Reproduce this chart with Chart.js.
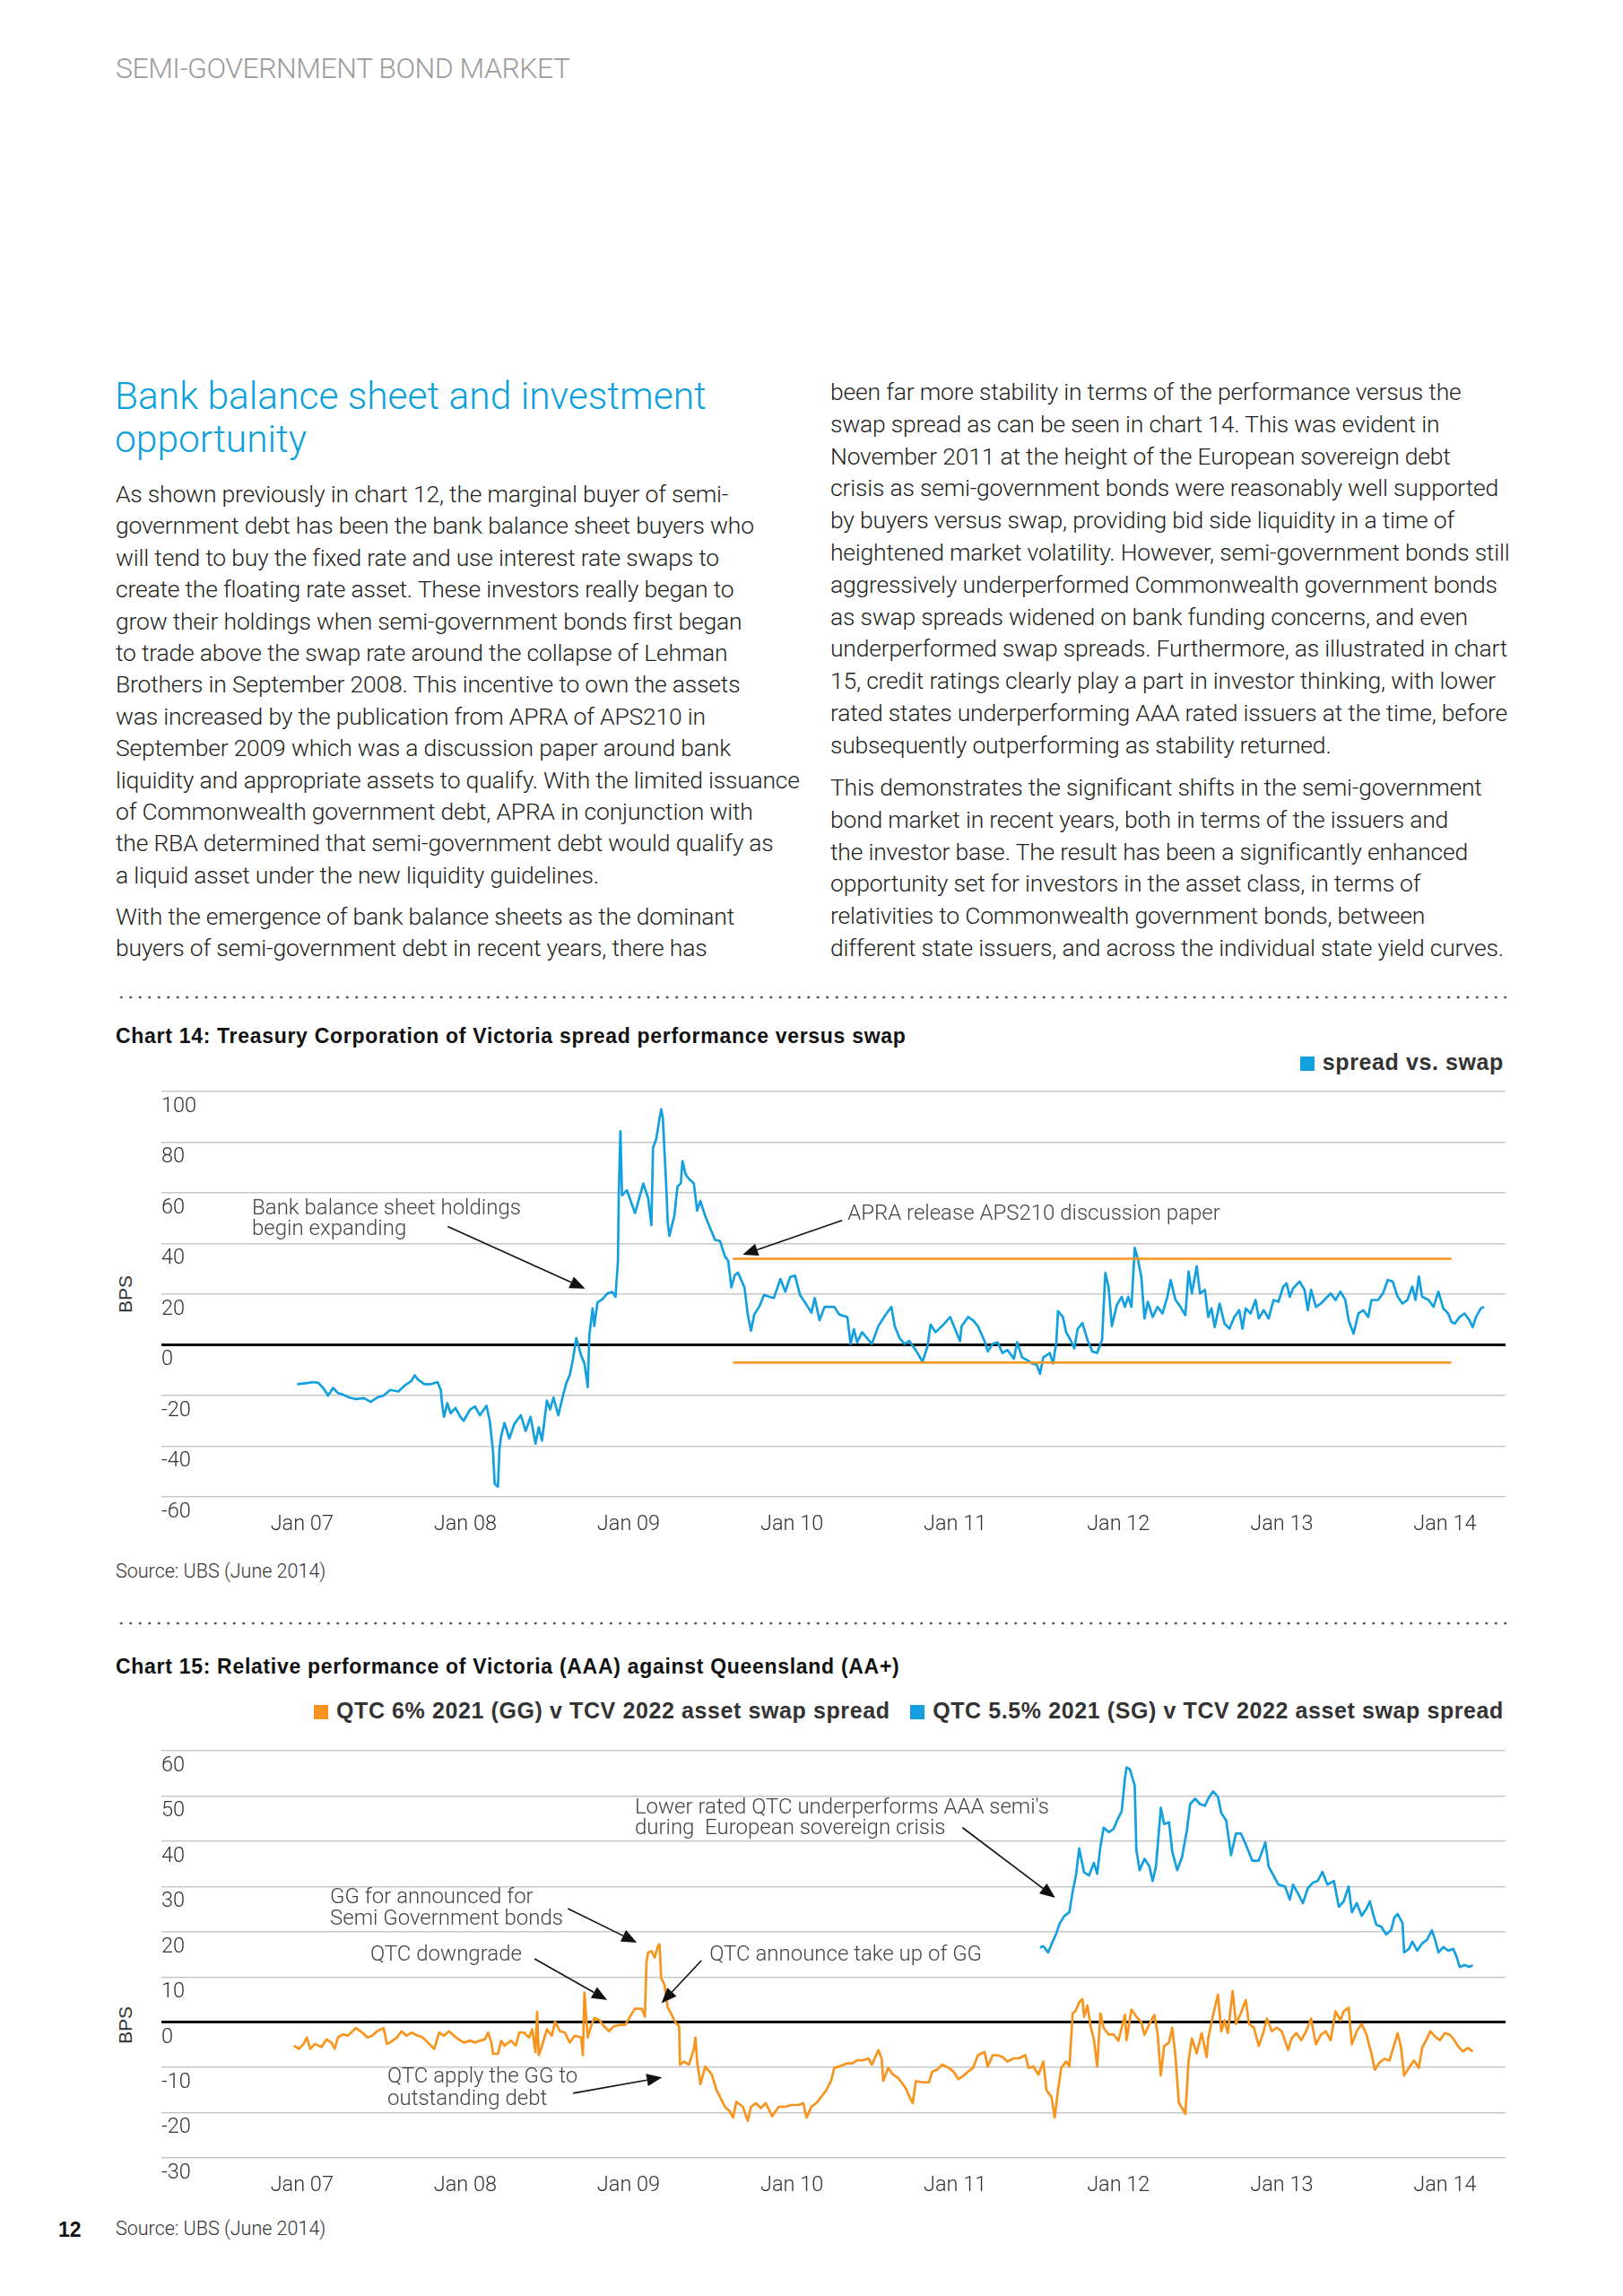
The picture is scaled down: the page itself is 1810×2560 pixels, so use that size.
<!DOCTYPE html>
<html>
<head>
<meta charset="utf-8">
<script src="https://cdn.jsdelivr.net/npm/chart.js@4.4.1/dist/chart.umd.min.js"></script>
<style>
  html, body { margin: 0; padding: 0; background: #fff; }
  body { width: 1810px; height: 2560px; position: relative; overflow: hidden; font-family: Roboto, "Liberation Sans", sans-serif; color: #222; }
  .abs { position: absolute; white-space: nowrap; }
  .header { left: 129px; top: 60px; font-size: 32px; line-height: 32px; font-weight: 300; color: #9b9b9b; letter-spacing: -0.5px; }
  .heading { left: 128px; top: 418px; font-size: 42.5px; line-height: 48px; font-weight: 300; color: #0b9fdc; letter-spacing: 0; }
  .body-text { font-size: 26.5px; font-weight: 300; letter-spacing: -0.2px; color: #231f20; }
  .left-col { left: 129px; line-height: 35.4px; }
  .right-col { left: 926px; line-height: 35.8px; }
  .dots { left: 130px; width: 1552px; height: 4px; background: radial-gradient(circle, #555 1.3px, transparent 1.7px) 0 0 / 10.5px 4px repeat-x; }
  .chart-title { left: 129px; font-family: "Liberation Sans", Arial, sans-serif; font-weight: bold; font-size: 23px; line-height: 24px; letter-spacing: 0.7px; color: #111; }
  .legend { font-family: "Liberation Sans", Arial, sans-serif; font-weight: bold; font-size: 25px; line-height: 28px; color: #333; letter-spacing: 0.6px; }
  .sw { display: inline-block; width: 16px; height: 16px; margin-right: 9px; vertical-align: -1px; }
  .bps { font-family: "Liberation Sans", Arial, sans-serif; font-size: 21px; color: #333; transform: translate(-50%, -50%) rotate(-90deg); }
  .source { left: 129px; font-size: 21.5px; font-weight: 300; line-height: 24px; color: #333; }
  .pageno { left: 65px; font-family: "Liberation Sans", Arial, sans-serif; font-weight: bold; font-size: 23px; line-height: 24px; color: #111; }
  canvas { position: absolute; }
</style>
</head>
<body>

<div class="abs header">SEMI-GOVERNMENT BOND MARKET</div>

<div class="abs heading">Bank balance sheet and investment<br>opportunity</div>

<div class="abs body-text left-col" style="top:533px">As shown previously in chart 12, the marginal buyer of semi-<br>government debt has been the bank balance sheet buyers who<br>will tend to buy the fixed rate and use interest rate swaps to<br>create the floating rate asset. These investors really began to<br>grow their holdings when semi-government bonds first began<br>to trade above the swap rate around the collapse of Lehman<br>Brothers in September 2008. This incentive to own the assets<br>was increased by the publication from APRA of APS210 in<br>September 2009 which was a discussion paper around bank<br>liquidity and appropriate assets to qualify. With the limited issuance<br>of Commonwealth government debt, APRA in conjunction with<br>the RBA determined that semi-government debt would qualify as<br>a liquid asset under the new liquidity guidelines.</div>
<div class="abs body-text left-col" style="top:1004px">With the emergence of bank balance sheets as the dominant<br>buyers of semi-government debt in recent years, there has</div>

<div class="abs body-text right-col" style="top:419px">been far more stability in terms of the performance versus the<br>swap spread as can be seen in chart 14. This was evident in<br>November 2011 at the height of the European sovereign debt<br>crisis as semi-government bonds were reasonably well supported<br>by buyers versus swap, providing bid side liquidity in a time of<br>heightened market volatility. However, semi-government bonds still<br>aggressively underperformed Commonwealth government bonds<br>as swap spreads widened on bank funding concerns, and even<br>underperformed swap spreads. Furthermore, as illustrated in chart<br>15, credit ratings clearly play a part in investor thinking, with lower<br>rated states underperforming AAA rated issuers at the time, before<br>subsequently outperforming as stability returned.</div>
<div class="abs body-text right-col" style="top:860px">This demonstrates the significant shifts in the semi-government<br>bond market in recent years, both in terms of the issuers and<br>the investor base. The result has been a significantly enhanced<br>opportunity set for investors in the asset class, in terms of<br>relativities to Commonwealth government bonds, between<br>different state issuers, and across the individual state yield curves.</div>

<div class="abs dots" style="top:1110px"></div>

<div class="abs chart-title" style="top:1143px">Chart 14: Treasury Corporation of Victoria spread performance versus swap</div>
<div class="abs legend" style="right:133px; top:1170px"><span class="sw" style="background:#14a0de"></span>spread vs. swap</div>
<div class="abs bps" style="left:140px; top:1443px">BPS</div>
<canvas id="chart14" width="1570" height="540" style="left:130px; top:1190px; width:1570px; height:540px"></canvas>
<div class="abs source" style="top:1740px">Source: UBS (June 2014)</div>

<div class="abs dots" style="top:1808px"></div>

<div class="abs chart-title" style="top:1846px">Chart 15: Relative performance of Victoria (AAA) against Queensland (AA+)</div>
<div class="abs legend" style="right:133px; top:1893px"><span class="sw" style="background:#f7941d"></span>QTC 6% 2021 (GG) v TCV 2022 asset swap spread&nbsp;&nbsp;&nbsp;<span class="sw" style="background:#14a0de"></span>QTC 5.5% 2021 (SG) v TCV 2022 asset swap spread</div>
<div class="abs bps" style="left:140px; top:2258px">BPS</div>
<canvas id="chart15" width="1570" height="542" style="left:130px; top:1925px; width:1570px; height:542px"></canvas>

<div class="pageno abs" style="top:2474px">12</div>
<div class="abs source" style="top:2473px">Source: UBS (June 2014)</div>

<script>
// x axis: decimal years, ticks every January
const yearTicks = [2007, 2008, 2009, 2010, 2011, 2012, 2013, 2014];
const yearLabels = ["Jan 07", "Jan 08", "Jan 09", "Jan 10", "Jan 11", "Jan 12", "Jan 13", "Jan 14"];
const X_MIN = 2006.139;
const X_MAX = 2014.371;

// Chart 14: TCV spread vs swap (bps)
const c14YTicks = [-60, -40, -20, 0, 20, 40, 60, 80, 100];
const c14Dates = [
  2006.97, 2007.04, 2007.07, 2007.10, 2007.13, 2007.16, 2007.19, 2007.22, 2007.25, 2007.29,
  2007.33, 2007.38, 2007.42, 2007.46, 2007.50, 2007.54, 2007.59, 2007.63, 2007.67, 2007.69,
  2007.71, 2007.75, 2007.79, 2007.83, 2007.85, 2007.86, 2007.87, 2007.89, 2007.91, 2007.94,
  2007.97, 2007.99, 2008.03, 2008.06, 2008.09, 2008.13, 2008.15, 2008.17, 2008.18, 2008.20,
  2008.21, 2008.22, 2008.24, 2008.27, 2008.30, 2008.34, 2008.37, 2008.40, 2008.43, 2008.45,
  2008.47, 2008.50, 2008.52, 2008.54, 2008.57, 2008.60, 2008.62, 2008.64, 2008.66, 2008.68,
  2008.71, 2008.73, 2008.75, 2008.76, 2008.78, 2008.79, 2008.81, 2008.84, 2008.87, 2008.90,
  2008.92, 2008.935, 2008.94, 2008.95, 2008.96, 2008.99, 2009.04, 2009.09, 2009.12, 2009.14,
  2009.15, 2009.17, 2009.19, 2009.20, 2009.21, 2009.22, 2009.23, 2009.24, 2009.25, 2009.28,
  2009.30, 2009.32, 2009.33, 2009.35, 2009.37, 2009.40, 2009.42, 2009.44, 2009.47, 2009.50,
  2009.53, 2009.56, 2009.59, 2009.61, 2009.63, 2009.65, 2009.67, 2009.71, 2009.73, 2009.75,
  2009.77, 2009.80, 2009.83, 2009.86, 2009.89, 2009.93, 2009.96, 2009.99, 2010.02, 2010.05,
  2010.08, 2010.12, 2010.14, 2010.17, 2010.20, 2010.23, 2010.26, 2010.29, 2010.34, 2010.36,
  2010.38, 2010.40, 2010.43, 2010.46, 2010.49, 2010.53, 2010.57, 2010.61, 2010.63, 2010.66,
  2010.69, 2010.72, 2010.77, 2010.80, 2010.83, 2010.85, 2010.88, 2010.92, 2010.97, 2011.00,
  2011.03, 2011.04, 2011.08, 2011.11, 2011.14, 2011.18, 2011.20, 2011.23, 2011.26, 2011.29,
  2011.32, 2011.36, 2011.38, 2011.41, 2011.44, 2011.47, 2011.50, 2011.52, 2011.54, 2011.58,
  2011.60, 2011.62, 2011.63, 2011.66, 2011.68, 2011.71, 2011.73, 2011.75, 2011.78, 2011.81,
  2011.84, 2011.87, 2011.90, 2011.92, 2011.94, 2011.96, 2011.99, 2012.02, 2012.04, 2012.06,
  2012.08, 2012.10, 2012.12, 2012.14, 2012.16, 2012.18, 2012.21, 2012.24, 2012.27, 2012.30,
  2012.32, 2012.35, 2012.38, 2012.41, 2012.43, 2012.45, 2012.48, 2012.50, 2012.53, 2012.55,
  2012.57, 2012.59, 2012.62, 2012.65, 2012.68, 2012.71, 2012.74, 2012.76, 2012.78, 2012.81,
  2012.84, 2012.86, 2012.89, 2012.92, 2012.95, 2012.98, 2013.01, 2013.03, 2013.05, 2013.07,
  2013.11, 2013.14, 2013.16, 2013.18, 2013.21, 2013.24, 2013.27, 2013.30, 2013.33, 2013.36,
  2013.39, 2013.41, 2013.44, 2013.47, 2013.50, 2013.53, 2013.55, 2013.59, 2013.62, 2013.65,
  2013.68, 2013.71, 2013.74, 2013.77, 2013.80, 2013.82, 2013.84, 2013.86, 2013.90, 2013.93,
  2013.96, 2013.99, 2014.02, 2014.04, 2014.06, 2014.09, 2014.12, 2014.15, 2014.17, 2014.19,
  2014.22, 2014.24
];
const c14Spread = [
  -15.5, -15.0, -14.7, -15.0, -17.0, -20.0, -17.0, -19.0, -19.6, -20.8,
  -21.4, -21.0, -22.5, -20.8, -20.0, -17.8, -18.4, -16.0, -14.3, -12.0,
  -13.7, -15.5, -15.5, -14.7, -17.8, -24.3, -28.4, -23.0, -27.0, -24.9,
  -28.4, -30.0, -25.5, -24.3, -27.8, -24.0, -30.0, -42.0, -54.8, -56.0,
  -40.7, -36.0, -30.8, -37.0, -31.3, -27.8, -34.0, -28.4, -39.0, -32.5,
  -37.8, -22.0, -25.5, -20.8, -27.8, -19.6, -14.9, -12.0, -5.5, 2.7,
  -4.3, -7.3, -16.7, 3.9, 14.4, 7.4, 16.8, 18.0, 20.3, 20.9,
  19.0, 33.0, 59.0, 84.3, 59.0, 61.0, 52.0, 63.7, 57.9, 47.3,
  77.8, 81.3, 89.6, 93.0, 89.6, 76.6, 63.7, 48.5, 43.0, 50.8,
  62.6, 63.7, 72.5, 67.3, 65.5, 63.7, 53.0, 56.8, 50.8, 46.0,
  41.4, 41.0, 35.0, 33.2, 22.7, 27.4, 28.5, 22.7, 12.0, 5.6,
  12.0, 15.0, 19.7, 19.0, 18.5, 26.0, 21.0, 26.8, 27.3, 19.7,
  16.8, 12.7, 18.5, 9.7, 15.0, 15.0, 15.0, 12.0, 11.0, 0.4,
  6.2, 1.0, 5.0, 2.7, 0.4, 7.4, 11.5, 15.0, 7.4, 2.7,
  0.4, 1.5, -3.2, -6.7, -0.8, 8.0, 5.0, 7.4, 11.0, 6.2,
  1.5, 7.4, 11.0, 9.7, 7.4, 1.5, -2.6, 0.4, 1.0, -3.2,
  -2.0, -5.5, 1.0, -4.9, -6.0, -7.3, -7.9, -11.4, -4.9, -3.2,
  -7.3, 1.0, 13.3, 11.0, 5.0, 1.5, -1.4, 6.2, 8.6, 2.0,
  -2.6, -3.2, 2.0, 28.5, 22.7, 7.4, 15.6, 19.0, 15.0, 19.0,
  15.0, 38.3, 33.6, 27.0, 10.4, 17.0, 11.0, 15.0, 12.4, 19.0,
  25.6, 17.7, 15.0, 11.7, 29.0, 20.3, 31.0, 20.3, 21.7, 11.0,
  14.4, 7.0, 16.3, 8.4, 6.4, 11.0, 13.7, 6.4, 14.4, 12.4,
  17.7, 10.4, 13.7, 10.4, 17.7, 17.0, 23.0, 24.3, 19.0, 22.3,
  25.0, 21.7, 13.7, 21.7, 15.0, 16.3, 18.3, 20.3, 17.7, 21.0,
  17.7, 9.7, 4.4, 12.4, 13.7, 11.0, 17.7, 17.7, 20.3, 25.6,
  25.0, 19.0, 16.3, 17.7, 23.0, 17.7, 27.0, 19.0, 17.7, 15.0,
  21.0, 14.4, 12.4, 9.0, 8.4, 11.0, 12.4, 9.7, 7.0, 11.0,
  14.4, 15.0
];
// orange reference band on chart 14
const c14BandX = [2009.64, 2014.04];
const c14BandUpper = [34, 34];
const c14BandLower = [-7, -7];

// Chart 15: QTC v TCV asset swap spreads (bps)
const c15YTicks = [-30, -20, -10, 0, 10, 20, 30, 40, 50, 60];
const c15GGDates = [
  2006.95, 2006.98, 2007.01, 2007.03, 2007.05, 2007.08, 2007.12, 2007.15, 2007.18, 2007.20,
  2007.22, 2007.25, 2007.28, 2007.31, 2007.33, 2007.37, 2007.40, 2007.43, 2007.46, 2007.50,
  2007.52, 2007.54, 2007.58, 2007.61, 2007.64, 2007.67, 2007.71, 2007.74, 2007.77, 2007.81,
  2007.84, 2007.87, 2007.90, 2007.93, 2007.96, 2007.99, 2008.03, 2008.06, 2008.09, 2008.12,
  2008.14, 2008.16, 2008.17, 2008.20, 2008.22, 2008.24, 2008.28, 2008.31, 2008.33, 2008.36,
  2008.39, 2008.41, 2008.43, 2008.44, 2008.45, 2008.47, 2008.50, 2008.53, 2008.55, 2008.58,
  2008.61, 2008.64, 2008.67, 2008.71, 2008.72, 2008.73, 2008.75, 2008.77, 2008.79, 2008.82,
  2008.85, 2008.88, 2008.91, 2008.95, 2008.98, 2009.02, 2009.04, 2009.08, 2009.10, 2009.11,
  2009.12, 2009.14, 2009.16, 2009.18, 2009.19, 2009.20, 2009.22, 2009.24, 2009.26, 2009.29,
  2009.31, 2009.315, 2009.34, 2009.37, 2009.40, 2009.41, 2009.42, 2009.44, 2009.47, 2009.51,
  2009.54, 2009.57, 2009.59, 2009.62, 2009.64, 2009.66, 2009.70, 2009.73, 2009.75, 2009.78,
  2009.81, 2009.84, 2009.88, 2009.92, 2009.96, 2010.00, 2010.04, 2010.07, 2010.09, 2010.12,
  2010.15, 2010.18, 2010.21, 2010.24, 2010.26, 2010.29, 2010.34, 2010.37, 2010.40, 2010.44,
  2010.47, 2010.49, 2010.53, 2010.55, 2010.56, 2010.59, 2010.62, 2010.65, 2010.68, 2010.70,
  2010.72, 2010.74, 2010.76, 2010.80, 2010.84, 2010.86, 2010.89, 2010.92, 2010.96, 2010.99,
  2011.02, 2011.05, 2011.08, 2011.11, 2011.14, 2011.18, 2011.20, 2011.23, 2011.26, 2011.29,
  2011.32, 2011.36, 2011.39, 2011.43, 2011.45, 2011.48, 2011.51, 2011.54, 2011.56, 2011.59,
  2011.61, 2011.63, 2011.65, 2011.68, 2011.70, 2011.72, 2011.74, 2011.76, 2011.78, 2011.79,
  2011.81, 2011.83, 2011.85, 2011.87, 2011.89, 2011.91, 2011.94, 2011.97, 2012.00, 2012.04,
  2012.05, 2012.08, 2012.11, 2012.14, 2012.16, 2012.19, 2012.22, 2012.24, 2012.26, 2012.28,
  2012.31, 2012.33, 2012.35, 2012.37, 2012.39, 2012.41, 2012.43, 2012.45, 2012.48, 2012.51,
  2012.54, 2012.55, 2012.58, 2012.61, 2012.63, 2012.65, 2012.67, 2012.70, 2012.72, 2012.75,
  2012.78, 2012.80, 2012.83, 2012.86, 2012.89, 2012.91, 2012.94, 2012.97, 2013.00, 2013.04,
  2013.06, 2013.09, 2013.12, 2013.15, 2013.18, 2013.21, 2013.24, 2013.27, 2013.30, 2013.33,
  2013.36, 2013.38, 2013.41, 2013.43, 2013.46, 2013.49, 2013.52, 2013.54, 2013.55, 2013.57,
  2013.60, 2013.63, 2013.66, 2013.69, 2013.71, 2013.73, 2013.75, 2013.78, 2013.81, 2013.84,
  2013.86, 2013.89, 2013.91, 2013.94, 2013.97, 2014.00, 2014.03, 2014.05, 2014.08, 2014.11,
  2014.14, 2014.17
];
const c15GG = [
  -5.2, -5.9, -4.8, -3.4, -5.9, -4.8, -5.5, -3.8, -4.5, -5.9,
  -3.4, -2.7, -3.0, -2.0, -1.3, -2.3, -3.4, -3.0, -2.0, -1.3,
  -4.8, -4.5, -3.4, -2.0, -3.0, -2.3, -3.0, -3.4, -4.5, -5.9,
  -2.3, -3.0, -2.0, -3.0, -3.8, -4.5, -4.1, -4.5, -4.1, -3.8,
  -2.3, -4.5, -7.0, -7.0, -4.1, -5.2, -4.1, -5.2, -2.3, -2.3,
  -3.4, -1.6, -6.6, 2.3, -7.3, -5.2, -1.6, -3.0, 0.1, -2.0,
  -2.3, -4.5, -3.0, -3.4, -7.3, 6.5, -3.4, -0.9, 0.9, 0.5,
  -0.9, -2.0, -0.9, -0.6, -0.6, 1.9, 3.0, 3.0, 1.2, 13.3,
  15.4, 15.7, 14.3, 16.8, 17.2, 9.7, 8.3, 3.3, 1.9, -0.2,
  -0.9, -9.4, -8.7, -9.4, -5.9, -3.4, -8.7, -13.7, -9.8, -11.6,
  -15.1, -17.2, -18.7, -19.7, -21.1, -17.6, -18.7, -21.8, -18.7, -17.9,
  -19.0, -17.9, -20.8, -18.7, -18.7, -18.3, -18.3, -17.9, -21.1, -18.7,
  -17.9, -16.5, -15.1, -13.0, -10.1, -9.8, -9.1, -9.1, -8.4, -8.4,
  -8.0, -9.4, -6.2, -8.0, -13.0, -10.1, -11.6, -12.3, -13.7, -14.8,
  -16.5, -17.9, -13.0, -13.3, -13.3, -10.9, -10.5, -9.4, -10.1, -10.9,
  -12.6, -11.9, -10.9, -10.1, -7.3, -6.6, -9.8, -7.3, -7.3, -7.7,
  -8.7, -8.0, -8.0, -7.3, -10.1, -9.8, -11.6, -8.7, -15.1, -16.5,
  -21.1, -15.1, -10.1, -8.7, -9.8, 1.9, 2.6, 4.4, 5.1, 1.2,
  3.7, -0.9, -3.8, -9.8, 1.9, -1.3, -2.7, -2.7, -4.1, 1.6,
  -4.0, 2.8, 1.2, 0.0, -2.8, -0.4, 1.6, -2.4, -11.8, -5.3,
  -4.5, -1.2, -7.7, -17.8, -19.0, -20.3, -8.5, -3.6, -6.9, -2.4,
  -7.7, -3.6, 1.6, 6.1, -2.0, 0.4, -2.4, 6.9, -0.4, 2.0,
  4.9, -0.4, -1.2, -5.3, -2.0, 0.8, -2.0, -1.2, -2.0, -6.1,
  -3.6, -2.4, -4.0, -2.0, 0.8, -4.9, -2.8, -2.0, -4.0, 2.4,
  0.4, 2.4, 3.2, -4.9, -2.0, -0.4, -2.8, -5.7, -6.9, -10.5,
  -8.9, -8.1, -8.5, -4.9, -2.4, -5.3, -11.8, -10.1, -8.5, -10.1,
  -5.7, -3.6, -2.0, -3.2, -4.0, -2.4, -2.8, -3.6, -5.3, -6.5,
  -5.7, -6.5
];
const c15SGDates = [
  2011.52, 2011.54, 2011.57, 2011.59, 2011.62, 2011.64, 2011.67, 2011.70, 2011.72, 2011.74,
  2011.76, 2011.79, 2011.82, 2011.85, 2011.87, 2011.89, 2011.91, 2011.94, 2011.97, 2012.00,
  2012.02, 2012.04, 2012.05, 2012.07, 2012.10, 2012.11, 2012.13, 2012.16, 2012.19, 2012.21,
  2012.23, 2012.26, 2012.28, 2012.31, 2012.33, 2012.36, 2012.39, 2012.42, 2012.44, 2012.47,
  2012.50, 2012.53, 2012.55, 2012.58, 2012.61, 2012.63, 2012.66, 2012.69, 2012.72, 2012.75,
  2012.78, 2012.82, 2012.86, 2012.90, 2012.92, 2012.95, 2012.98, 2013.02, 2013.05, 2013.07,
  2013.10, 2013.13, 2013.16, 2013.19, 2013.22, 2013.25, 2013.28, 2013.32, 2013.35, 2013.38,
  2013.41, 2013.43, 2013.46, 2013.49, 2013.52, 2013.54, 2013.56, 2013.58, 2013.61, 2013.64,
  2013.67, 2013.69, 2013.71, 2013.74, 2013.75, 2013.78, 2013.80, 2013.83, 2013.86, 2013.89,
  2013.92, 2013.94, 2013.96, 2013.99, 2014.02, 2014.05, 2014.07, 2014.09, 2014.12, 2014.15,
  2014.17
];
const c15SG = [
  16.5, 16.8, 15.4, 17.2, 19.6, 21.8, 23.5, 24.3, 28.9, 32.4,
  38.4, 33.1, 32.4, 35.2, 32.8, 38.8, 43.0, 42.0, 42.7, 45.2,
  46.6, 53.9, 56.3, 55.9, 52.3, 38.1, 33.6, 36.1, 34.4, 31.2,
  34.4, 47.4, 43.8, 44.2, 37.7, 33.6, 36.5, 42.5, 48.2, 49.4,
  48.2, 47.8, 49.4, 51.0, 49.8, 46.2, 44.6, 36.9, 41.7, 41.7,
  39.3, 35.7, 35.7, 39.7, 34.4, 32.4, 30.4, 30.0, 27.1, 30.4,
  28.4, 26.3, 29.6, 30.8, 31.2, 33.2, 30.4, 31.2, 25.5, 26.7,
  30.0, 24.3, 26.3, 23.5, 25.1, 26.7, 23.9, 21.5, 21.1, 19.4,
  20.3, 23.1, 23.9, 21.9, 15.4, 16.2, 17.8, 15.8, 17.4, 18.2,
  20.3, 18.2, 15.4, 16.6, 15.8, 16.2, 14.6, 12.2, 12.6, 12.2,
  12.6
];

// chart annotations, anchored in data units (year, bps)
const c14Texts = [
  { lines: ["Bank balance sheet holdings", "begin expanding"], x: 2006.694, y: [53.8, 45.5] },
  { lines: ["APRA release APS210 discussion paper"], x: 2010.341, y: [51.5] }
];
const c14Arrows = [
  [2007.892, 46.7, 2008.734, 22.2],
  [2010.308, 49.1, 2009.699, 35.6]
];
const c15Texts = [
  { lines: ["GG for announced for", "Semi Government bonds"], x: 2007.172, y: [27.5, 22.7] },
  { lines: ["QTC downgrade"], x: 2007.419, y: [14.8] },
  { lines: ["QTC apply the GG to", "outstanding debt"], x: 2007.523, y: [-12.2, -17.1] },
  { lines: ["QTC announce take up of GG"], x: 2009.496, y: [14.8] },
  { lines: ["Lower rated QTC underperforms AAA semi's", "during  European sovereign crisis"], x: 2009.038, y: [47.4, 42.7] }
];
const c15Arrows = [
  [2008.628, 25.1, 2009.051, 17.6],
  [2008.424, 14.0, 2008.869, 4.9],
  [2008.661, -15.7, 2009.205, -12.2],
  [2009.446, 13.6, 2009.202, 4.2],
  [2011.045, 43.0, 2011.613, 27.5]
];

const BLUE = "#14a0de";
const ORANGE = "#f7941d";
const TICK_FONT = { family: "Roboto, 'Liberation Sans', sans-serif", size: 23.5, weight: "300" };

function toPoints(xs, ys) {
  return xs.map((x, i) => ({ x: x, y: ys[i] }));
}

function drawArrow(ctx, x1, y1, x2, y2) {
  const ang = Math.atan2(y2 - y1, x2 - x1);
  const len = 17, half = 7;
  const bx = x2 - len * Math.cos(ang), by = y2 - len * Math.sin(ang);
  ctx.beginPath();
  ctx.moveTo(x1, y1);
  ctx.lineTo(bx, by);
  ctx.lineWidth = 1.6;
  ctx.strokeStyle = "#111";
  ctx.stroke();
  ctx.beginPath();
  ctx.moveTo(x2, y2);
  ctx.lineTo(bx + half * Math.sin(ang), by - half * Math.cos(ang));
  ctx.lineTo(bx - half * Math.sin(ang), by + half * Math.cos(ang));
  ctx.closePath();
  ctx.fillStyle = "#111";
  ctx.fill();
}

function notesPlugin(texts, arrows) {
  return {
    id: "notes",
    afterDatasetsDraw(chart) {
      const { ctx, scales } = chart;
      ctx.save();
      ctx.font = "300 24px Roboto, 'Liberation Sans', sans-serif";
      ctx.fillStyle = "#444";
      ctx.textBaseline = "middle";
      ctx.textAlign = "left";
      texts.forEach(t => {
        t.lines.forEach((line, i) => {
          ctx.fillText(line, scales.x.getPixelForValue(t.x), scales.y.getPixelForValue(t.y[i]));
        });
      });
      arrows.forEach(a => {
        drawArrow(ctx, scales.x.getPixelForValue(a[0]), scales.y.getPixelForValue(a[1]),
          scales.x.getPixelForValue(a[2]), scales.y.getPixelForValue(a[3]));
      });
      ctx.restore();
    }
  };
}

function makeOptions(yMin, yMax, yTicks) {
  return {
    responsive: false,
    animation: false,
    layout: { padding: { left: 50, right: 21, top: 27, bottom: 0 } },
    plugins: { legend: { display: false }, tooltip: { enabled: false } },
    elements: { point: { radius: 0 }, line: { tension: 0, borderJoinStyle: "round" } },
    scales: {
      x: {
        type: "linear",
        min: X_MIN,
        max: X_MAX,
        afterBuildTicks: s => { s.ticks = yearTicks.map(v => ({ value: v })); },
        afterFit: s => { s.height = 61; },
        ticks: {
          autoSkip: false, maxRotation: 0, padding: 17, color: "#333", font: TICK_FONT,
          callback: (v, i) => yearLabels[i]
        },
        grid: { display: false, drawTicks: false },
        border: { display: false }
      },
      y: {
        min: yMin,
        max: yMax,
        afterBuildTicks: s => { s.ticks = yTicks.map(v => ({ value: v })); },
        afterFit: s => { s.width = 0; },
        ticks: { mirror: true, padding: 0, labelOffset: 17, color: "#333", font: TICK_FONT },
        grid: {
          drawTicks: false,
          color: c => (c.tick && c.tick.value === 0 ? "#000" : "#c8c8c8"),
          lineWidth: c => (c.tick && c.tick.value === 0 ? 3 : 1.4)
        },
        border: { display: false }
      }
    }
  };
}

new Chart(document.getElementById("chart14"), {
  type: "line",
  data: {
    datasets: [
      { data: toPoints(c14BandX, c14BandUpper), borderColor: ORANGE, borderWidth: 2.6 },
      { data: toPoints(c14BandX, c14BandLower), borderColor: ORANGE, borderWidth: 2.6 },
      { label: "spread vs. swap", data: toPoints(c14Dates, c14Spread), borderColor: BLUE, borderWidth: 2.7 }
    ]
  },
  options: makeOptions(-60, 100, c14YTicks),
  plugins: [notesPlugin(c14Texts, c14Arrows)]
});

new Chart(document.getElementById("chart15"), {
  type: "line",
  data: {
    datasets: [
      { label: "QTC 6% 2021 (GG) v TCV 2022 asset swap spread", data: toPoints(c15GGDates, c15GG), borderColor: ORANGE, borderWidth: 2.7 },
      { label: "QTC 5.5% 2021 (SG) v TCV 2022 asset swap spread", data: toPoints(c15SGDates, c15SG), borderColor: BLUE, borderWidth: 2.7 }
    ]
  },
  options: makeOptions(-30, 60, c15YTicks),
  plugins: [notesPlugin(c15Texts, c15Arrows)]
});
</script>
</body>
</html>
